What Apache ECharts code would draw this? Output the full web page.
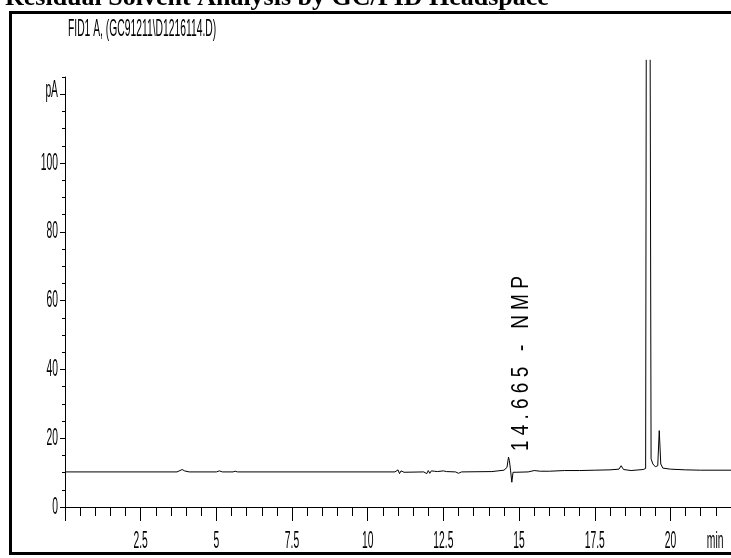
<!DOCTYPE html>
<html>
<head>
<meta charset="utf-8">
<title>FID1 A - Residual Solvent</title>
<script src="https://cdn.jsdelivr.net/npm/echarts@6/dist/echarts.min.js"></script>
<style>
    html, body { margin: 0; padding: 0; background: #fff; }
    #chart { width: 731px; height: 558px; }
</style>
</head>
<body>
<div id="chart"></div>
<script>
    // retention time (min)
    var times = [0, 3.7, 3.8, 3.87, 3.95, 4.1, 5.0, 5.1, 5.2, 5.55, 5.62, 5.7,
        10.9, 11.0, 11.05, 11.1, 11.2, 11.85, 11.9, 11.95, 12.0, 12.05, 12.1, 12.15, 12.2,
        12.3, 12.5, 12.6, 12.9, 12.95, 13.0, 13.1, 14.1, 14.3, 14.5, 14.6, 14.65, 14.68,
        14.72, 14.76, 14.8, 14.9, 15.3, 15.5, 15.7, 16.0, 16.5, 17.0, 17.5, 18.0, 18.3,
        18.37, 18.45, 18.7, 19.1, 19.18, 19.2, 19.265, 19.33, 19.36, 19.42, 19.5, 19.58, 19.63,
        19.68, 19.75, 20.0, 20.5, 21.0, 22];
    // detector signal (pA); the big peak at 19.2 runs off the top of the report (null = cut)
    var signal = [10.2, 10.2, 10.6, 10.9, 10.5, 10.2, 10.2, 10.5, 10.2, 10.2, 10.4, 10.2,
        10.2, 10.8, 9.7, 10.5, 10.1, 10.2, 10.7, 9.7, 10.6, 9.8, 10.5, 10.1, 10.4,
        10.3, 10.5, 10.3, 10.2, 10.6, 9.8, 10.2, 10.3, 10.5, 10.7, 11.5, 14.5, 13.5,
        10.5, 7.2, 10.1, 10.1, 10.2, 10.6, 10.4, 10.4, 10.6, 10.6, 10.7, 10.8, 11.0,
        12.0, 10.9, 10.6, 10.9, 11.2, 130, null, 130, 14, 12.5, 11.7, 12, 22.2,
        12.5, 11.3, 11, 10.8, 10.7, 10.7];

    var xTicks = [2.5, 5, 7.5, 10, 12.5, 15, 17.5, 20];
    var xTickLabels = ['2.5', '5', '7.5', '10', '12.5', '15', '17.5', '20'];
    var yTicks = [0, 20, 40, 60, 80, 100];
    var yTickLabels = ['0', '20', '40', '60', '80', '100'];
    var yName = 'pA';
    var xName = 'min';
    var title = 'Residual Solvent Analysis by GC/FID Headspace';
    var signalName = 'FID1 A, (GC91211\\D1216114.D)';
    var peakName = '14.665 - NMP';
    var peakTime = 14.665;
    var peakTop = 14.5;

    var narrow = '"Liberation Sans", Arial, sans-serif';
    var squeeze = 0.43;   // report text is very condensed

    var points = times.map(function (t, i) { return [t, signal[i]]; });

    // tick positions
    var xMajor = [0].concat(xTicks);
    var xMinor = [];
    for (var i = 1; i <= 44; i++) xMinor.push(i * 0.5);
    var yMajor = yTicks.concat([120]);
    var yMinor = [];
    for (var j = 1; j <= 25; j++) yMinor.push(j * 5);

    var chart = echarts.init(document.getElementById('chart'));
    var lineStyle = {color: '#000', width: 1};

    chart.setOption({
        animation: false,
        backgroundColor: '#fff',
        grid: {left: 65, right: 0, top: 77, bottom: 51},
        xAxis: [{
            type: 'value', min: 0, max: 22, position: 'bottom',
            axisLine: {lineStyle: lineStyle},
            axisTick: {length: 14, lineStyle: lineStyle, customValues: xMajor},
            axisLabel: {show: false},
            splitLine: {show: false}
        }, {
            type: 'value', min: 0, max: 22, position: 'bottom',
            axisLine: {show: false},
            axisTick: {length: 9, lineStyle: lineStyle, customValues: xMinor},
            axisLabel: {show: false},
            splitLine: {show: false}
        }],
        yAxis: [{
            type: 'value', min: 0, max: 125, position: 'left',
            axisLine: {show: true, lineStyle: lineStyle},
            axisTick: {length: 5, lineStyle: lineStyle, customValues: yMajor},
            axisLabel: {show: false},
            splitLine: {show: false}
        }, {
            type: 'value', min: 0, max: 125, position: 'left',
            axisLine: {show: false},
            axisTick: {length: 3, lineStyle: lineStyle, customValues: yMinor},
            axisLabel: {show: false},
            splitLine: {show: false}
        }],
        series: [{
            type: 'line',
            name: signalName,
            data: points,
            xAxisIndex: 0,
            yAxisIndex: 0,
            showSymbol: false,
            symbol: 'none',
            connectNulls: false,
            clip: false,
            lineStyle: {color: '#000', width: 1}
        }]
    });

    // texts of the report, placed with the axes' own scales
    var texts = [];
    xTicks.forEach(function (v, i) {
        var p = chart.convertToPixel({xAxisIndex: 0, yAxisIndex: 0}, [v, 0]);
        texts.push({
            type: 'text', x: p[0], y: p[1] + 34, scaleX: squeeze, silent: true,
            style: {text: xTickLabels[i], fontFamily: narrow, fontSize: 24, fill: '#000',
                align: 'center', verticalAlign: 'middle'}
        });
    });
    yTicks.forEach(function (v, i) {
        var p = chart.convertToPixel({xAxisIndex: 0, yAxisIndex: 0}, [0, v]);
        texts.push({
            type: 'text', x: p[0] - 7, y: p[1], scaleX: squeeze, silent: true,
            style: {text: yTickLabels[i], fontFamily: narrow, fontSize: 24, fill: '#000',
                align: 'right', verticalAlign: 'middle'}
        });
    });
    var pTop = chart.convertToPixel({xAxisIndex: 0, yAxisIndex: 0}, [0, 121]);
    texts.push({
        type: 'text', x: pTop[0] - 7, y: pTop[1], scaleX: squeeze, silent: true,
        style: {text: yName, fontFamily: narrow, fontSize: 24, fill: '#000',
            align: 'right', verticalAlign: 'middle'}
    });
    var pEnd = chart.convertToPixel({xAxisIndex: 0, yAxisIndex: 0}, [21.2, 0]);
    texts.push({
        type: 'text', x: pEnd[0], y: pEnd[1] + 34, scaleX: squeeze, silent: true,
        style: {text: xName, fontFamily: narrow, fontSize: 24, fill: '#000',
            align: 'left', verticalAlign: 'middle'}
    });
    // peak annotation, written upwards next to the peak
    var pk = chart.convertToPixel({xAxisIndex: 0, yAxisIndex: 0}, [peakTime, peakTop]);
    texts.push({
        type: 'text', x: pk[0] + 12, y: pk[1] - 6, rotation: Math.PI / 2, scaleX: 0.79, silent: true,
        style: {text: peakName.split('').join(' '), fontFamily: narrow, fontSize: 24, fill: '#000',
            align: 'left', verticalAlign: 'middle'}
    });
    // signal name and report title
    texts.push({
        type: 'text', x: 68, y: 29, scaleX: squeeze, silent: true,
        style: {text: signalName, fontFamily: narrow, fontSize: 24, fill: '#000',
            align: 'left', verticalAlign: 'middle'}
    });
    texts.push({
        type: 'text', x: 5, y: 11, silent: true,
        style: {text: title, fontFamily: '"Liberation Serif", "Times New Roman", serif',
            fontWeight: 'bold', fontSize: 26, fill: '#000', align: 'left', verticalAlign: 'bottom'}
    });
    // report frame
    texts.push({
        type: 'rect', silent: true,
        shape: {x: 10.5, y: 12.5, width: 740, height: 541},
        style: {fill: 'none', stroke: '#000', lineWidth: 3}
    });

    chart.setOption({graphic: texts});
</script>
</body>
</html>
